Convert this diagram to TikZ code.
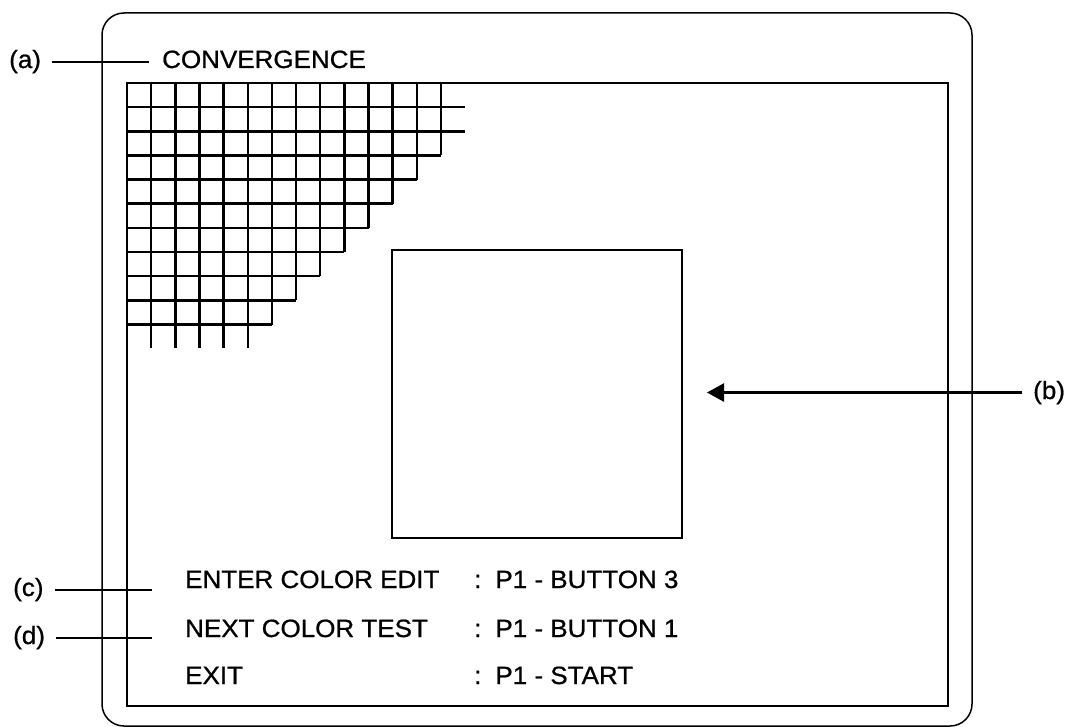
\documentclass[tikz,border=0pt]{standalone}
\usepackage{fontspec}
\setmainfont[FakeStretch=1.04, FakeBold=0.8]{Liberation Sans}
\usetikzlibrary{arrows.meta}

\begin{document}
\begin{tikzpicture}[x=1pt, y=-1pt,
	txt/.style={font=\fontsize{25}{29}\selectfont, inner sep=0pt, anchor=base west},
	frame/.style={line width=1.5pt},
	gridline/.style={line width=2.5pt},
	lead/.style={line width=2pt}]
\useasboundingbox (0,0) rectangle (1070,727);
% screen
\draw[frame, rounded corners=22pt] (102,13) rectangle (972,726);
\draw[frame] (127,83) rectangle (948,706);
\draw[frame] (392,250) rectangle (682,538);
% crosshatch pattern
\foreach \j in {1,2}
	\draw[gridline] (127,83+\j*24.15) -- (465,83+\j*24.15);
\foreach \j in {3,...,10}
	\draw[gridline] (127,83+\j*24.15) -- (127+16*24.15-\j*24.15,83+\j*24.15);
\foreach \i in {1,...,5}
	\draw[gridline] (127+\i*24.15,83) -- (127+\i*24.15,348);
\foreach \i in {6,...,13}
	\draw[gridline] (127+\i*24.15,83) -- (127+\i*24.15,83+16*24.15-\i*24.15);
% texts
\node[txt]  at (162, 68) (conv) {CONVERGENCE};
\node[txt]  at (185, 588) (enter) {ENTER COLOR EDIT};
\node[txt]  at (185, 637) (next) {NEXT COLOR TEST};
\node[txt]  at (185, 684) (exit) {EXIT};
\node[txt]  at (474, 588) (btn3) {:\hspace{14pt}P1 - BUTTON 3};
\node[txt]  at (474, 637) (btn1) {:\hspace{14pt}P1 - BUTTON 1};
\node[txt]  at (474, 684) (start) {:\hspace{14pt}P1 - START};
% callouts
\node[txt]  at (9, 68) (la) {(a)};
\node[txt]  at (1033, 399) (lb) {(b)};
\node[txt]  at (13, 596) (lc) {(c)};
\node[txt]  at (13, 644) (ld) {(d)};
\coordinate (btip) at (707, 392);
\draw[lead, shorten <=11pt, shorten >=13pt] (la.east) -- (la.east -| conv.west);
\draw[lead, shorten <=11pt, shorten >=33pt] (lc.east) -- (lc.east -| enter.west);
\draw[lead, shorten <=11pt, shorten >=33pt] (ld.east) -- (ld.east -| next.west);
\draw[line width=2.6pt, -{Triangle[length=17pt,width=18pt]}, shorten <=11pt] (lb.west) -- (lb.west -| btip);
\end{tikzpicture}
\end{document}
